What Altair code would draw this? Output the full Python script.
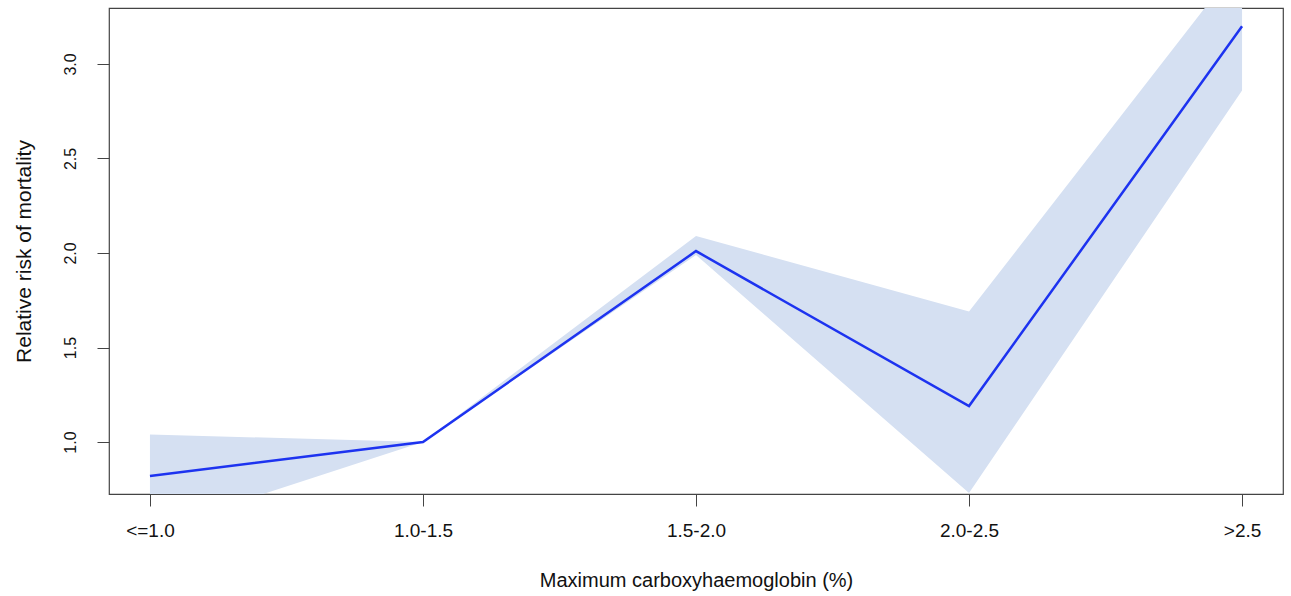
import altair as alt
import pandas as pd

categories = ["<=1.0", "1.0-1.5", "1.5-2.0", "2.0-2.5", ">2.5"]
risk = [0.82, 1.00, 2.01, 1.19, 3.20]
lower = [0.53, 1.00, 1.99, 0.73, 2.86]
upper = [1.04, 1.00, 2.09, 1.69, 3.55]

df = pd.DataFrame({"cat": categories, "risk": risk, "lower": lower, "upper": upper})

font = "Liberation Sans"
xenc = alt.X(
    "cat:N",
    sort=categories,
    scale=alt.Scale(type="point", padding=0.15),
    axis=alt.Axis(
        title="Maximum carboxyhaemoglobin (%)",
        labelAngle=0,
        domain=False,
        grid=False,
        tickSize=12,
        tickColor="#444",
        labelPadding=15,
        labelFontSize=19,
        titleFontSize=20,
        titlePadding=30,
        labelColor="#111",
        titleColor="#111",
        titleFontWeight="normal",
        labelFont=font,
        titleFont=font,
    ),
)
yscale = alt.Scale(domain=[0.725, 3.296], nice=False, zero=False)
yaxis = alt.Axis(
    title="Relative risk of mortality",
    values=[1.0, 1.5, 2.0, 2.5, 3.0],
    format=".1f",
    labelAngle=-90,
    labelAlign="center",
    labelBaseline="bottom",
    domain=False,
    grid=False,
    tickSize=12,
    tickColor="#444",
    labelPadding=19,
    labelFontSize=16,
    titleFontSize=21,
    titlePadding=28,
    labelColor="#111",
    titleColor="#111",
    titleFontWeight="normal",
    labelFont=font,
    titleFont=font,
)

band = alt.Chart(df).mark_area(color="#d5e0f2", opacity=1, clip=True).encode(
    x=xenc,
    y=alt.Y("lower:Q", scale=yscale, axis=yaxis),
    y2="upper:Q",
)
line = alt.Chart(df).mark_line(color="#1d33f0", strokeWidth=2.5, clip=True).encode(
    x=alt.X("cat:N", sort=categories),
    y=alt.Y("risk:Q"),
)

chart = (
    (band + line)
    .properties(
        width=1174,
        height=486,
        autosize=alt.AutoSizeParams(type="none"),
        padding={"left": 109, "top": 8, "right": 8, "bottom": 102},
        background="white",
    )
    .configure_view(stroke="#444", strokeWidth=1.2)
)

chart.save("out.html", embed_options={"renderer": "svg", "actions": False})
